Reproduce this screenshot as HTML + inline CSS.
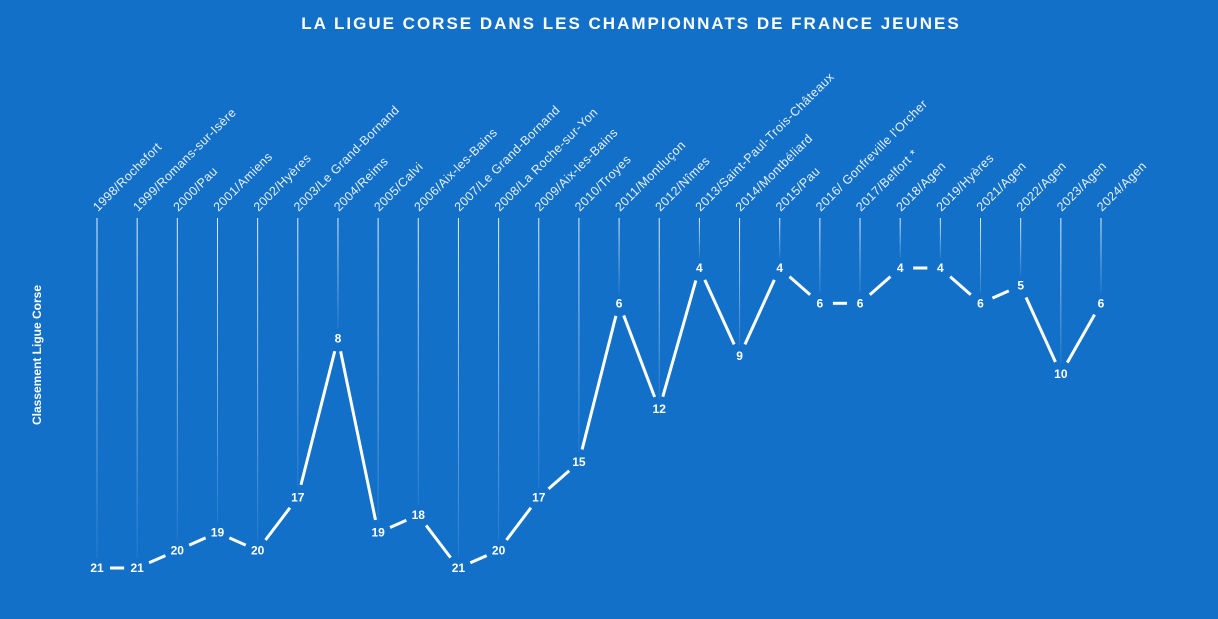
<!DOCTYPE html>
<html><head><meta charset="utf-8"><style>
html,body{margin:0;padding:0;background:#1270c8;}
svg{display:block;font-family:"Liberation Sans",sans-serif;}
</style></head><body>
<svg id="chart" width="1218" height="619" viewBox="0 0 1218 619">
<defs>
<linearGradient id="fade" x1="0" y1="0" x2="0" y2="1">
<stop offset="0" stop-color="#ffffff" stop-opacity="0.9"/>
<stop offset="1" stop-color="#ffffff" stop-opacity="0.08"/>
</linearGradient>
</defs>
<rect width="1218" height="619" fill="#1270c8"/>
<text x="631" y="29" text-anchor="middle" fill="#fff" font-size="17" font-weight="bold" letter-spacing="2">LA LIGUE CORSE DANS LES CHAMPIONNATS DE FRANCE JEUNES</text>
<text transform="translate(41,355) rotate(-90)" text-anchor="middle" fill="#fff" font-size="12" font-weight="bold">Classement Ligue Corse</text>
<g id="drops"></g><g id="xlabels"></g><g id="line"></g><g id="vals"></g>
</svg>
<script>
const categories = ["1998/Rochefort","1999/Romans-sur-Isère","2000/Pau","2001/Amiens","2002/Hyères","2003/Le Grand-Bornand","2004/Reims","2005/Calvi","2006/Aix-les-Bains","2007/Le Grand-Bornand","2008/La Roche-sur-Yon","2009/Aix-les-Bains","2010/Troyes","2011/Montluçon","2012/Nîmes","2013/Saint-Paul-Trois-Châteaux","2014/Montbéliard","2015/Pau","2016/ Gonfreville l'Orcher","2017/Belfort *","2018/Agen","2019/Hyères","2021/Agen","2022/Agen","2023/Agen","2024/Agen"];
const ranks = [21,21,20,19,20,17,8,19,18,21,20,17,15,6,12,4,9,4,6,6,4,4,6,5,10,6];
const NS="http://www.w3.org/2000/svg";
function x(i){return 97+i*(1101-97)/(categories.length-1);}
function y(r){return 568-(21-r)*(568-268)/17;}
const drops=document.getElementById('drops'),xl=document.getElementById('xlabels'),ln=document.getElementById('line'),vl=document.getElementById('vals');
categories.forEach((c,i)=>{
  const yy=y(ranks[i]);
  const r=document.createElementNS(NS,'rect');
  r.setAttribute('x',x(i)-0.5);r.setAttribute('y',218);r.setAttribute('width',1);r.setAttribute('height',Math.max(0,yy-10-218));
  r.setAttribute('fill','url(#fade)');
  
  
  drops.appendChild(r);
  const t=document.createElementNS(NS,'text');
  t.setAttribute('transform','translate('+(x(i)+1)+',212) rotate(-45)');
  t.setAttribute('fill','#e8f0fa');t.setAttribute('font-size','12.5');t.setAttribute('letter-spacing','0.4');
  t.textContent=c;
  
  
  xl.appendChild(t);
  const v=document.createElementNS(NS,'text');
  v.setAttribute('x',x(i));v.setAttribute('y',yy+4);v.setAttribute('text-anchor','middle');
  v.setAttribute('fill','#fff');v.setAttribute('font-size','12');v.setAttribute('font-weight','bold');
  v.textContent=ranks[i];
  
  
  vl.appendChild(v);
  if(i>0){
    const x1=x(i-1),y1=y(ranks[i-1]),x2=x(i),y2=yy;
    const dx=x2-x1,dy=y2-y1,L=Math.hypot(dx,dy),g=13;
    const s=document.createElementNS(NS,'line');
    s.setAttribute('x1',x1+dx*g/L);s.setAttribute('y1',y1+dy*g/L);
    s.setAttribute('x2',x2-dx*g/L);s.setAttribute('y2',y2-dy*g/L);
    s.setAttribute('stroke','#fff');s.setAttribute('stroke-width','3');
    
    
    ln.appendChild(s);
  }
});
</script>
</body></html>
